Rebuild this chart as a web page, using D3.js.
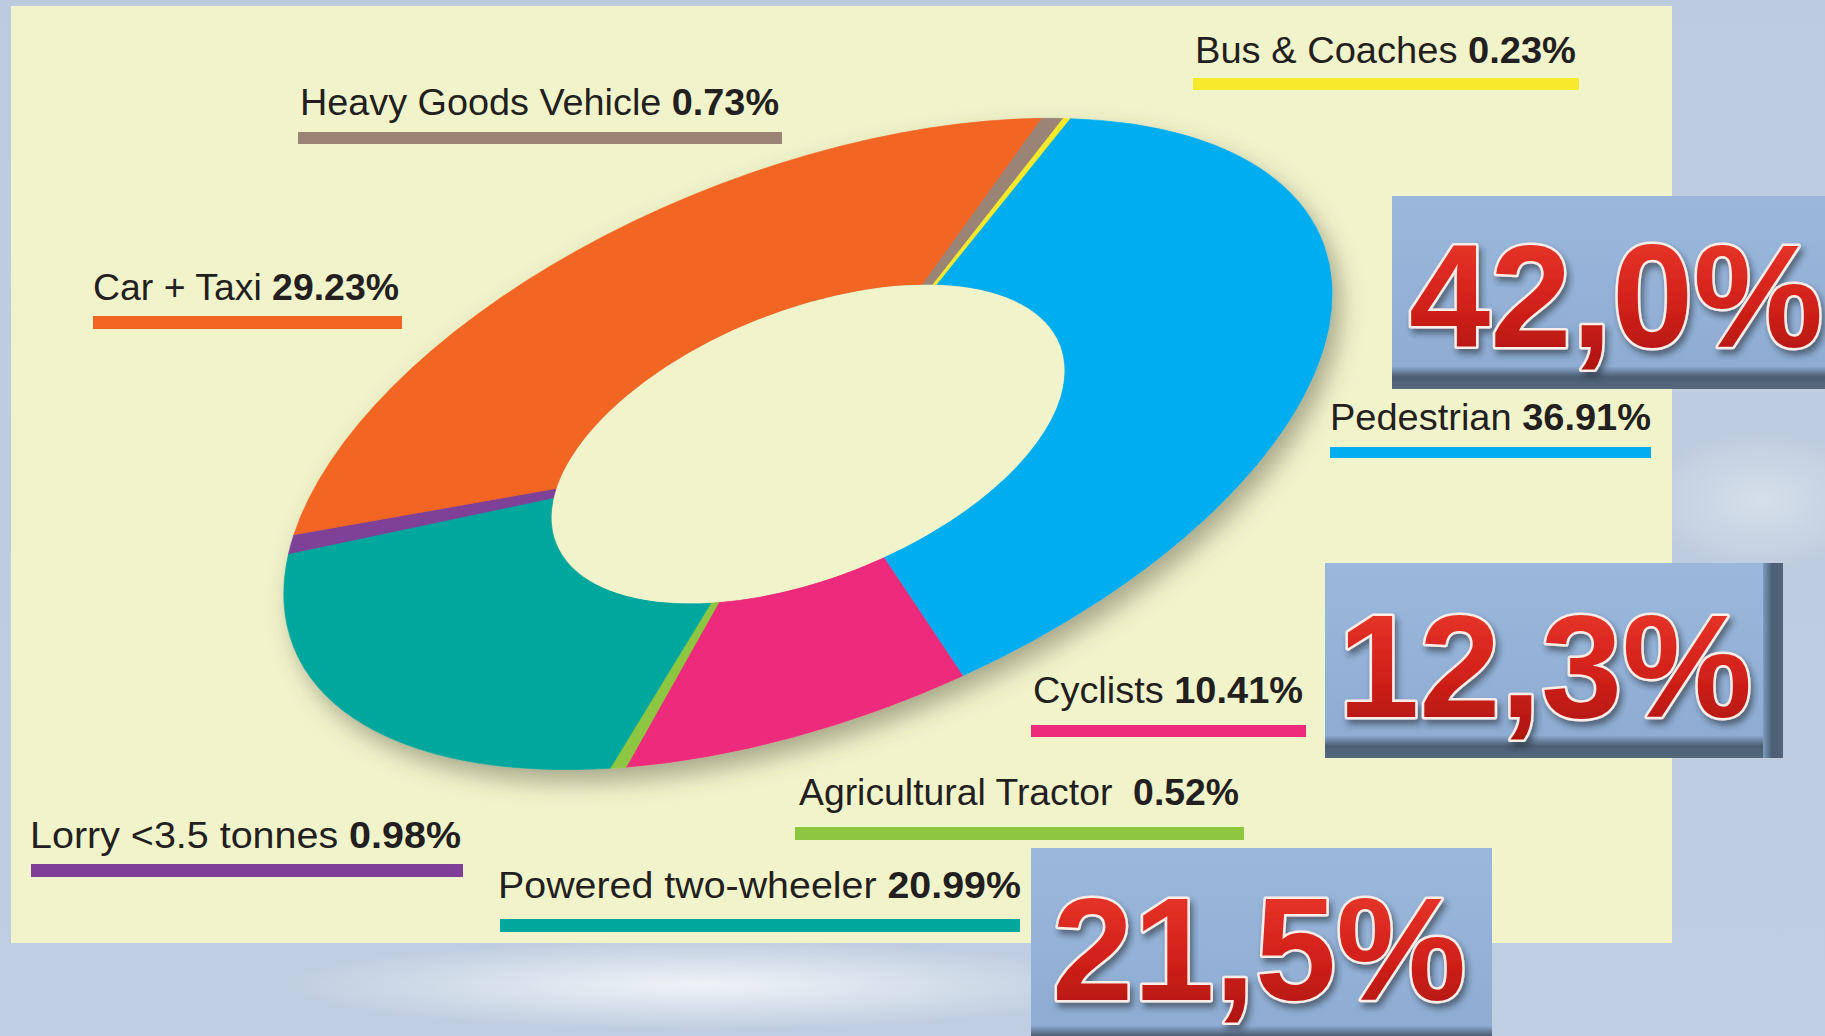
<!DOCTYPE html>
<html>
<head>
<meta charset="utf-8">
<script src="https://cdn.jsdelivr.net/npm/d3@7"></script>
<style>
  body { margin: 0; background: #bfcedf; }
  svg { display: block; }
</style>
</head>
<body>
<script>
// road fatalities by mode of transport, share in %
var categories = ["Pedestrian", "Cyclists", "Agricultural Tractor", "Powered two-wheeler",
  "Lorry <3.5 tonnes", "Car + Taxi", "Heavy Goods Vehicle", "Bus & Coaches"];
var shares = [36.91, 10.41, 0.52, 20.99, 0.98, 29.23, 0.73, 0.23];
var shareLabels = ["36.91%", "10.41%", "0.52%", "20.99%", "0.98%", "29.23%", "0.73%", "0.23%"];
var colors = ["#00aeef", "#ee2a7b", "#8dc63f", "#00a79d", "#7f3f98", "#f26522", "#9a8476", "#f7ea2c"];
var callouts = ["42,0%", "12,3%", "21,5%"];

var width = 1825, height = 1036;
var panelColor = "#f1f4cb";

// where each label sits (x, baseline, text width, underline span)
var labelPos = {
  "Pedestrian":            { x: 1330, y: 430, w: 321, b0: 1330, b1: 1651, by: 447, bh: 11 },
  "Cyclists":              { x: 1033, y: 703, w: 270, b0: 1031, b1: 1306, by: 725, bh: 12 },
  "Agricultural Tractor":  { x: 799,  y: 805, w: 440, b0: 795,  b1: 1244, by: 827, bh: 13 },
  "Powered two-wheeler":   { x: 498,  y: 898, w: 523, b0: 500,  b1: 1020, by: 919, bh: 13 },
  "Lorry <3.5 tonnes":     { x: 30,   y: 848, w: 431, b0: 31,   b1: 463,  by: 864, bh: 13 },
  "Car + Taxi":            { x: 93,   y: 300, w: 306, b0: 93,   b1: 402,  by: 316, bh: 13 },
  "Heavy Goods Vehicle":   { x: 300,  y: 115, w: 479, b0: 298,  b1: 782,  by: 132, bh: 12 },
  "Bus & Coaches":         { x: 1195, y: 63,  w: 381, b0: 1193, b1: 1579, by: 78,  bh: 12 }
};

// blue callout boxes: box rect + text origin
var calloutPos = [
  { x: 1392, y: 196, w: 460, h: 193, tx: 1409, ty: 347, side: false },
  { x: 1325, y: 563, w: 458, h: 195, tx: 1338, ty: 717, side: true },
  { x: 1031, y: 848, w: 461, h: 200, tx: 1052, ty: 1000, side: true }
];

var svg = d3.select("body").append("svg")
  .attr("width", width)
  .attr("height", height);

var defs = svg.append("defs");

// background sky
var bg = defs.append("linearGradient").attr("id", "bg").attr("x1", 0).attr("y1", 0).attr("x2", 0).attr("y2", 1);
bg.append("stop").attr("offset", "0%").attr("stop-color", "#bccbdd");
bg.append("stop").attr("offset", "100%").attr("stop-color", "#bfcee0");

var glow = defs.append("radialGradient").attr("id", "glow");
glow.append("stop").attr("offset", "0%").attr("stop-color", "#ffffff").attr("stop-opacity", 0.75);
glow.append("stop").attr("offset", "100%").attr("stop-color", "#ffffff").attr("stop-opacity", 0);

var shadow = defs.append("filter").attr("id", "shadow")
  .attr("x", "-10%").attr("y", "-10%").attr("width", "130%").attr("height", "140%");
shadow.append("feDropShadow")
  .attr("dx", 8).attr("dy", 12).attr("stdDeviation", 12)
  .attr("flood-color", "#4a4a3a").attr("flood-opacity", 0.45);

var boxFill = defs.append("linearGradient").attr("id", "boxFill").attr("x1", 0).attr("y1", 0).attr("x2", 0).attr("y2", 1);
boxFill.append("stop").attr("offset", "0%").attr("stop-color", "#9bb8dc");
boxFill.append("stop").attr("offset", "100%").attr("stop-color", "#8dabd2");

var boxBottom = defs.append("linearGradient").attr("id", "boxBottom").attr("x1", 0).attr("y1", 0).attr("x2", 0).attr("y2", 1);
boxBottom.append("stop").attr("offset", "0%").attr("stop-color", "#8aa7cc");
boxBottom.append("stop").attr("offset", "45%").attr("stop-color", "#4b5e74");
boxBottom.append("stop").attr("offset", "100%").attr("stop-color", "#56687c");

var boxSide = defs.append("linearGradient").attr("id", "boxSide").attr("x1", 0).attr("y1", 0).attr("x2", 1).attr("y2", 0);
boxSide.append("stop").attr("offset", "0%").attr("stop-color", "#7f9bbf");
boxSide.append("stop").attr("offset", "45%").attr("stop-color", "#4b5e74");
boxSide.append("stop").attr("offset", "100%").attr("stop-color", "#53657a");

var redFill = defs.append("linearGradient").attr("id", "redFill").attr("x1", 0).attr("y1", 0).attr("x2", 0).attr("y2", 1);
redFill.append("stop").attr("offset", "0%").attr("stop-color", "#ee3b2e");
redFill.append("stop").attr("offset", "55%").attr("stop-color", "#d2211a");
redFill.append("stop").attr("offset", "100%").attr("stop-color", "#a9130f");

var textShadow = defs.append("filter").attr("id", "textShadow")
  .attr("x", "-10%").attr("y", "-20%").attr("width", "130%").attr("height", "150%");
textShadow.append("feDropShadow")
  .attr("dx", 3).attr("dy", 5).attr("stdDeviation", 3)
  .attr("flood-color", "#1d2633").attr("flood-opacity", 0.55);

svg.append("rect").attr("width", width).attr("height", height).attr("fill", "url(#bg)");
svg.append("ellipse").attr("cx", 700).attr("cy", 985).attr("rx", 420).attr("ry", 45).attr("fill", "url(#glow)");
svg.append("ellipse").attr("cx", 1760).attr("cy", 500).attr("rx", 120).attr("ry", 70).attr("fill", "url(#glow)").attr("opacity", 0.5);

// cream panel
svg.append("rect")
  .attr("x", 11).attr("y", 6)
  .attr("width", 1661).attr("height", 937)
  .attr("fill", panelColor);

// tilted donut: drawn as a circle, then rotated and squashed into an ellipse
var R = 274, majorR = 553, holeRatio = 0.49;
var start = 41 * Math.PI / 180;

var pie = d3.pie()
  .sort(null)
  .value(function (d) { return d.value; })
  .startAngle(start)
  .endAngle(start + 2 * Math.PI);

var arc = d3.arc()
  .innerRadius(R * holeRatio)
  .outerRadius(R);

var pieData = pie(shares.map(function (d, i) {
  return { name: categories[i], value: d, color: colors[i] };
}));

var donutTransform = "translate(808,444) rotate(-21.5) scale(" + (majorR / R) + ",1)";

svg.append("g")
  .attr("filter", "url(#shadow)")
  .append("g")
  .attr("transform", donutTransform)
  .selectAll("path")
  .data(pieData)
  .enter().append("path")
  .attr("d", arc)
  .attr("fill", function (d) { return d.data.color; })
  .attr("stroke", function (d) { return d.data.color; })
  .attr("stroke-width", 0.4);

// keep the hole clean of the drop shadow
svg.append("g")
  .attr("transform", donutTransform)
  .append("path")
  .attr("d", d3.arc().innerRadius(0).outerRadius(R * holeRatio - 0.3)({ startAngle: 0, endAngle: 2 * Math.PI }))
  .attr("fill", panelColor);

// labels with coloured underline
var labels = svg.selectAll(".label")
  .data(categories)
  .enter().append("g")
  .attr("class", "label");

labels.append("rect")
  .attr("x", function (d) { return labelPos[d].b0; })
  .attr("y", function (d) { return labelPos[d].by; })
  .attr("width", function (d) { return labelPos[d].b1 - labelPos[d].b0; })
  .attr("height", function (d) { return labelPos[d].bh; })
  .attr("fill", function (d, i) { return colors[i]; });

var txt = labels.append("text")
  .attr("x", function (d) { return labelPos[d].x; })
  .attr("y", function (d) { return labelPos[d].y; })
  .attr("textLength", function (d) { return labelPos[d].w; })
  .attr("lengthAdjust", "spacingAndGlyphs")
  .attr("xml:space", "preserve")
  .style("font-family", "'Liberation Sans', Arial, sans-serif")
  .style("font-size", "37px")
  .style("fill", "#231f20");

txt.append("tspan")
  .text(function (d) { return d === "Agricultural Tractor" ? d + "  " : d + " "; });
txt.append("tspan")
  .style("font-weight", "bold")
  .text(function (d, i) { return shareLabels[i]; });

// blue boxes with the big red numbers
var boxes = svg.selectAll(".callout")
  .data(callouts)
  .enter().append("g")
  .attr("class", "callout");

boxes.append("rect")
  .attr("x", function (d, i) { return calloutPos[i].x; })
  .attr("y", function (d, i) { return calloutPos[i].y; })
  .attr("width", function (d, i) { return calloutPos[i].w; })
  .attr("height", function (d, i) { return calloutPos[i].h; })
  .attr("fill", "url(#boxFill)");

boxes.filter(function (d, i) { return calloutPos[i].side; })
  .append("rect")
  .attr("x", function (d, i) { return calloutPos[i].x + calloutPos[i].w - 20; })
  .attr("y", function (d, i) { return calloutPos[i].y; })
  .attr("width", 20)
  .attr("height", function (d, i) { return calloutPos[i].h; })
  .attr("fill", "url(#boxSide)");

boxes.append("rect")
  .attr("x", function (d, i) { return calloutPos[i].x; })
  .attr("y", function (d, i) { return calloutPos[i].y + calloutPos[i].h - 22; })
  .attr("width", function (d, i) { return calloutPos[i].w; })
  .attr("height", 22)
  .attr("fill", "url(#boxBottom)");

// the first number runs off the right edge, as in the original
boxes.append("text")
  .attr("x", function (d, i) { return calloutPos[i].tx; })
  .attr("y", function (d, i) { return calloutPos[i].ty; })
  .attr("filter", "url(#textShadow)")
  .style("font-family", "'Liberation Sans', Arial, sans-serif")
  .style("font-weight", "bold")
  .style("font-size", "146px")
  .style("fill", "url(#redFill)")
  .style("stroke", "#fbeee8")
  .style("stroke-width", 5)
  .style("stroke-linejoin", "round")
  .style("paint-order", "stroke")
  .text(function (d) { return d; });
</script>
</body>
</html>
